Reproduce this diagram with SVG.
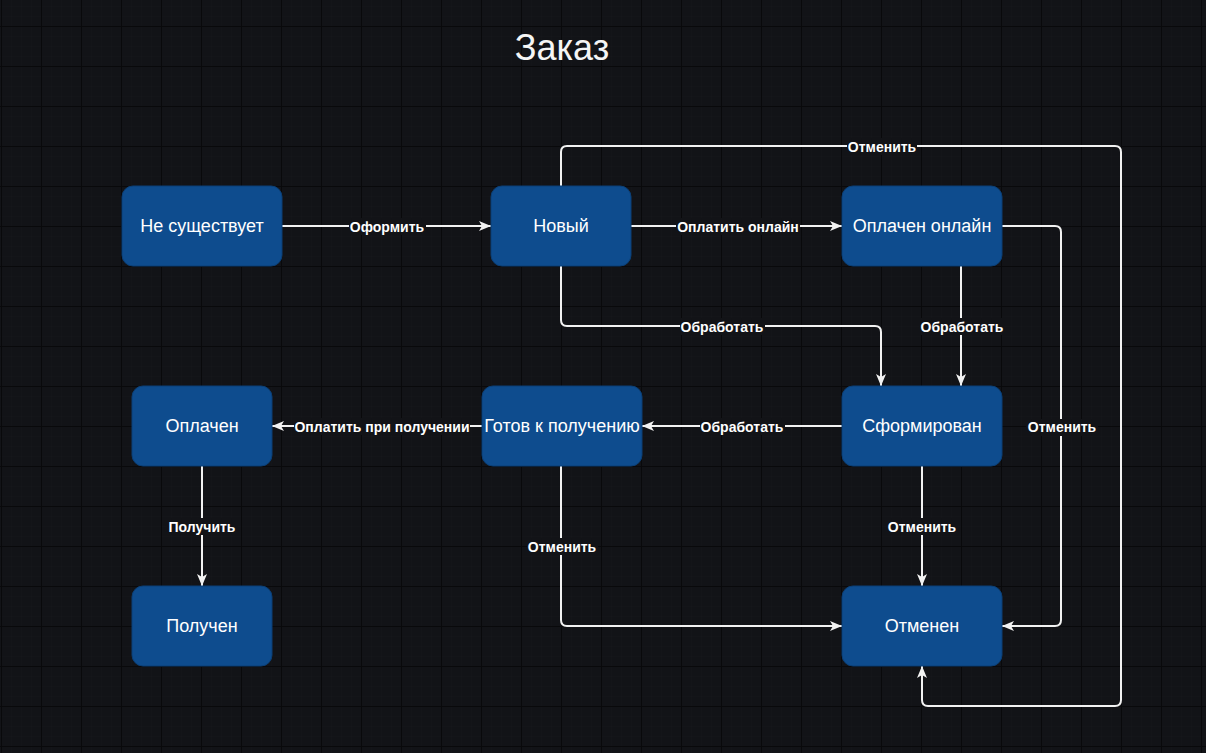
<svg xmlns="http://www.w3.org/2000/svg" width="1206" height="753" viewBox="0 0 1206 753">
<defs>
<pattern id="minor" x="1" y="26" width="10" height="10" patternUnits="userSpaceOnUse">
<path d="M0,0 H10 M0,0 V10" stroke="#16171c" stroke-width="1" fill="none"/>
</pattern>
<pattern id="major" x="1" y="26" width="40" height="40" patternUnits="userSpaceOnUse">
<path d="M0,0.5 H40 M0.5,0 V40" stroke="#09090b" stroke-width="1" fill="none"/>
</pattern>
<marker id="arr" viewBox="0 0 12 10" refX="12" refY="5" markerWidth="12" markerHeight="10" markerUnits="userSpaceOnUse" orient="auto">
<path d="M0,0 L12,5 L0,10 L3,5 Z" fill="#f2f2f2"/>
</marker>
<style>
.node rect{fill:#0e4c8e;stroke:#0b3f76;stroke-width:1}
.node text{fill:#ffffff;font-family:"Liberation Sans",Arial,sans-serif;font-size:18px;text-anchor:middle;dominant-baseline:central}
.edge{fill:none;stroke:#f2f2f2;stroke-width:2;marker-end:url(#arr)}
.lbg{fill:#121317}
.lbl{fill:#ffffff;font-family:"Liberation Sans",Arial,sans-serif;font-size:14px;font-weight:bold;text-anchor:middle;dominant-baseline:central}
</style>
</defs>
<rect width="1206" height="753" fill="#121317"/>
<rect width="1206" height="753" fill="url(#minor)"/>
<rect width="1206" height="753" fill="url(#major)"/>
<text x="562" y="60" fill="#f5f5f5" font-family="Liberation Sans,Arial,sans-serif" font-size="36" text-anchor="middle">Заказ</text>

<g id="connectors">
<path class="edge" d="M282,226 H491"/>
<path class="edge" d="M631,226 H842"/>
<path class="edge" d="M561,186 V152 Q561,146 567,146 H1115 Q1121,146 1121,152 V700 Q1121,706 1115,706 H928 Q922,706 922,700 V666"/>
<path class="edge" d="M1002,226 H1055 Q1061,226 1061,232 V620 Q1061,626 1055,626 H1002"/>
<path class="edge" d="M561,266 V320 Q561,326 567,326 H875 Q881,326 881,332 V386"/>
<path class="edge" d="M961,266 V386"/>
<path class="edge" d="M842,426 H642"/>
<path class="edge" d="M482,426 H272"/>
<path class="edge" d="M202,466 V586"/>
<path class="edge" d="M922,466 V586"/>
<path class="edge" d="M561,466 V620 Q561,626 567,626 H842"/>

<rect class="lbg" x="349" y="218" width="77" height="17"/><text class="lbl" x="387" y="227">Оформить</text>
<rect class="lbg" x="676" y="218" width="124" height="17"/><text class="lbl" x="738" y="227">Оплатить онлайн</text>
<rect class="lbg" x="847" y="138" width="70" height="17"/><text class="lbl" x="882" y="147">Отменить</text>
<rect class="lbg" x="1026" y="419" width="72" height="17"/><text class="lbl" x="1062" y="427">Отменить</text>
<rect class="lbg" x="680" y="318" width="85" height="17"/><text class="lbl" x="722" y="327">Обработать</text>
<rect class="lbg" x="919" y="318" width="85" height="17"/><text class="lbl" x="962" y="327">Обработать</text>
<rect class="lbg" x="700" y="418" width="85" height="17"/><text class="lbl" x="742" y="427">Обработать</text>
<rect class="lbg" x="294" y="418" width="176" height="17"/><text class="lbl" x="382" y="427">Оплатить при получении</text>
<rect class="lbg" x="167" y="518" width="71" height="17"/><text class="lbl" x="202" y="527">Получить</text>
<rect class="lbg" x="887" y="518" width="71" height="17"/><text class="lbl" x="922" y="527">Отменить</text>
<rect class="lbg" x="527" y="538" width="71" height="17"/><text class="lbl" x="562" y="547">Отменить</text>
</g>

<g id="n-ne-sushchestvuet" class="node"><rect x="122" y="186" width="160" height="80" rx="11"/><text x="202" y="226">Не существует</text></g>
<g id="n-novyi" class="node"><rect x="491" y="186" width="140" height="80" rx="11"/><text x="561" y="226">Новый</text></g>
<g id="n-oplachen-onlain" class="node"><rect x="842" y="186" width="160" height="80" rx="11"/><text x="922" y="226">Оплачен онлайн</text></g>
<g id="n-sformirovan" class="node"><rect x="842" y="386" width="160" height="80" rx="11"/><text x="922" y="426">Сформирован</text></g>
<g id="n-gotov" class="node"><rect x="482" y="386" width="160" height="80" rx="11"/><text x="562" y="426">Готов к получению</text></g>
<g id="n-oplachen" class="node"><rect x="132" y="386" width="140" height="80" rx="11"/><text x="202" y="426">Оплачен</text></g>
<g id="n-poluchen" class="node"><rect x="132" y="586" width="140" height="80" rx="11"/><text x="202" y="626">Получен</text></g>
<g id="n-otmenen" class="node"><rect x="842" y="586" width="160" height="80" rx="11"/><text x="922" y="626">Отменен</text></g>
</svg>
